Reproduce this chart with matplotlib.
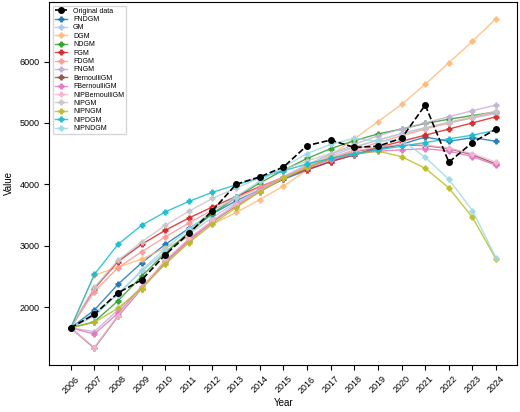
import matplotlib
matplotlib.use("Agg")
import matplotlib.pyplot as plt

plt.rcParams['font.family'] = ['Liberation Sans', 'DejaVu Sans']

years = list(range(2006, 2025))
original = [1660, 1880, 2230, 2440, 2850, 3200, 3570, 4000, 4120, 4280, 4630, 4720, 4600, 4620, 4750, 5290, 4360, 4680, 4900]

series_names = ["FNDGM", "GM", "DGM", "NDGM", "FGM", "FDGM", "FNGM", "BernoulliGM",
                "FBernoulliGM", "NIPBernoulliGM", "NIPGM", "NIPNGM", "NIPDGM", "NIPNDGM"]
FNDGM = [1660, 1950, 2370, 2720, 3020, 3280, 3520, 3730, 3910, 4080, 4230, 4370, 4480, 4570, 4650, 4770, 4700, 4760, 4700]
GM = [1660, 1850, 2220, 2580, 2900, 3190, 3460, 3700, 3920, 4120, 4300, 4460, 4600, 4720, 4830, 4920, 5000, 5080, 5150]
DGM = [1660, 2520, 2650, 2780, 2960, 3140, 3350, 3540, 3750, 3970, 4230, 4470, 4740, 5020, 5300, 5630, 5980, 6330, 6700]
NDGM = [1660, 1760, 2100, 2500, 2880, 3220, 3520, 3790, 4020, 4230, 4420, 4580, 4710, 4820, 4900, 4990, 5060, 5120, 5180]
FGM = [1660, 2300, 2740, 3020, 3250, 3450, 3630, 3800, 3960, 4110, 4240, 4370, 4480, 4600, 4700, 4800, 4900, 5000, 5100]
FDGM = [1660, 2250, 2640, 2900, 3140, 3370, 3580, 3770, 3950, 4120, 4280, 4430, 4560, 4680, 4790, 4900, 5000, 5090, 5170]
FNGM = [1660, 1600, 1950, 2330, 2700, 3060, 3380, 3660, 3900, 4120, 4320, 4490, 4650, 4790, 4900, 5000, 5100, 5200, 5290]
BernoulliGM = [1660, 1330, 1850, 2300, 2750, 3100, 3400, 3650, 3880, 4090, 4280, 4420, 4530, 4600, 4640, 4630, 4580, 4480, 4330]
FBernoulliGM = [1660, 1560, 1900, 2320, 2730, 3080, 3400, 3670, 3900, 4100, 4270, 4400, 4490, 4540, 4560, 4580, 4540, 4450, 4310]
NIPBernoulliGM = [1660, 1340, 1860, 2310, 2760, 3110, 3410, 3660, 3890, 4100, 4290, 4430, 4540, 4610, 4650, 4640, 4590, 4500, 4360]
NIPGM = [1660, 2320, 2760, 3060, 3330, 3560, 3770, 3940, 4100, 4240, 4380, 4500, 4610, 4720, 4820, 4920, 5010, 5100, 5190]
NIPNGM = [1660, 1750, 1980, 2300, 2700, 3050, 3350, 3620, 3880, 4100, 4280, 4420, 4500, 4540, 4450, 4260, 3940, 3460, 2780]
NIPDGM = [1660, 2530, 3020, 3330, 3550, 3720, 3870, 3990, 4110, 4220, 4330, 4420, 4500, 4560, 4620, 4680, 4740, 4800, 4880]
NIPNDGM = [1660, 1900, 2200, 2600, 2950, 3270, 3560, 3800, 4050, 4280, 4500, 4650, 4750, 4700, 4720, 4440, 4080, 3570, 2800]
series = [FNDGM, GM, DGM, NDGM, FGM, FDGM, FNGM, BernoulliGM, FBernoulliGM,
          NIPBernoulliGM, NIPGM, NIPNGM, NIPDGM, NIPNDGM]
colors = ["#1f77b4", "#aec7e8", "#ffbb78", "#2ca02c", "#d62728", "#ff9896", "#c5b0d5",
          "#8c564b", "#e377c2", "#f7b6d2", "#c7c7c7", "#bcbd22", "#17becf", "#9edae5"]

fig, ax = plt.subplots(figsize=(5.2, 4.12), dpi=100)
ax.plot(years, original, 'k--o', label="Original data", markersize=4, linewidth=1.2, zorder=5)
for name, vals, c in zip(series_names, series, colors):
    ax.plot(years, vals, '-P', color=c, label=name, markersize=3.5, linewidth=1, alpha=0.85)

ax.set_xticks(years)
ax.set_xticklabels([str(y) for y in years], rotation=45, fontsize=6.5)
ax.tick_params(axis='y', labelsize=6.5)
ax.set_xlabel("Year", fontsize=7, labelpad=2)
ax.set_ylabel("Value", fontsize=7)
ax.legend(loc='upper left', fontsize=5, handlelength=1.8, labelspacing=0.2, borderpad=0.3)
fig.subplots_adjust(left=0.095, right=0.995, top=0.995, bottom=0.115)
fig.savefig("out.png")
